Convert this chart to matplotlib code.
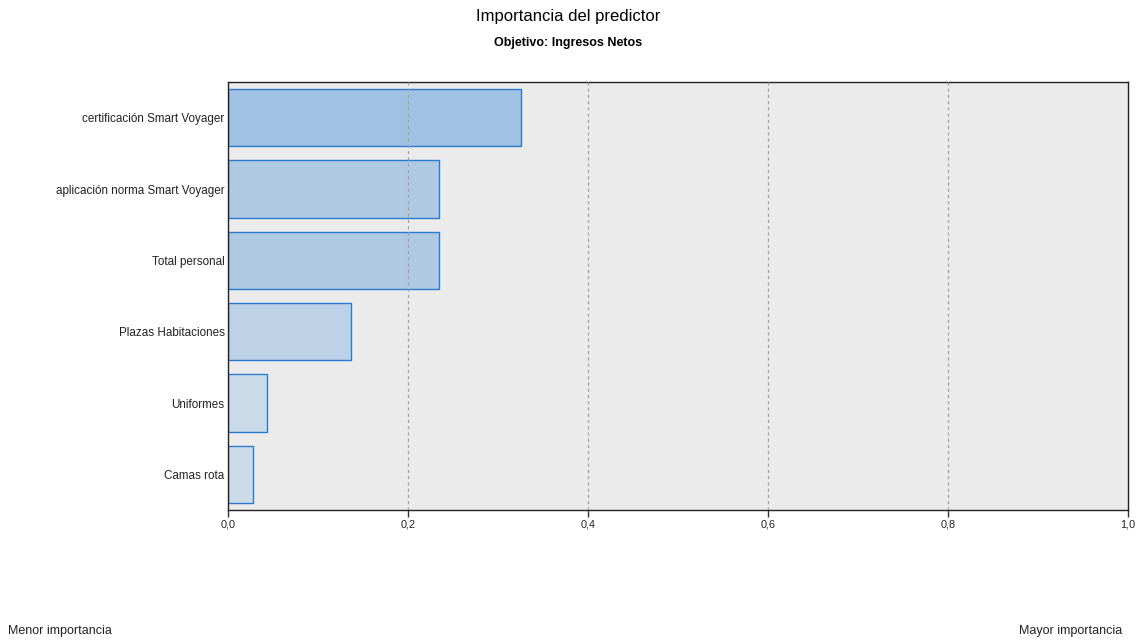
import matplotlib
matplotlib.use("Agg")
import matplotlib.pyplot as plt

categories = ["certificación Smart Voyager", "aplicación norma Smart Voyager",
              "Total personal", "Plazas Habitaciones", "Uniformes", "Camas rota"]
importance = [0.326, 0.234, 0.234, 0.137, 0.043, 0.028]
fill_colors = ["#a0c1e1", "#afc9e3", "#afc9e3", "#bdd2e6", "#cadae8", "#cddbe8"]
xticks = [0.0, 0.2, 0.4, 0.6, 0.8, 1.0]
xtick_labels = ["0,0", "0,2", "0,4", "0,6", "0,8", "1,0"]

plt.rcParams['font.family'] = ['Liberation Sans', 'DejaVu Sans']

W, H = 1138, 640
fig = plt.figure(figsize=(W / 100, H / 100), dpi=100)
ax = fig.add_axes([228 / W, 1 - 510 / H, (1128 - 228) / W, (510 - 82) / H])
ax.set_facecolor("#ebebeb")

ypos = list(range(len(categories)))
ax.barh(ypos, importance, height=0.8, color=fill_colors, edgecolor="#2a7ad0",
        linewidth=1.0, zorder=2)
ax.set_ylim(len(categories) - 0.5, -0.5)
ax.set_xlim(0, 1.0)
ax.set_yticks(ypos)
ax.set_yticklabels(categories, fontsize=8.4, color="#222222")
ax.tick_params(axis="y", length=0, pad=2.5)
ax.set_xticks(xticks)
ax.set_xticklabels(xtick_labels, fontsize=7.8, color="#222222")
ax.tick_params(axis="x", length=5, width=1, color="#333333", pad=2)
for v in xticks[1:-1]:
    ax.axvline(v, color="#a0a0a0", linestyle=(0, (2.5, 2.5)), linewidth=0.9, zorder=3)
for s in ["top", "right", "left", "bottom"]:
    ax.spines[s].set_color("#222222")
    ax.spines[s].set_linewidth(1.0)

fig.text(568 / W, 1 - 16 / H, "Importancia del predictor", ha="center", va="center",
         fontsize=12, color="#000000")
fig.text(568 / W, 1 - 43 / H, "Objetivo: Ingresos Netos", ha="center", va="center",
         fontsize=9, fontweight="bold", color="#000000")
fig.text(8 / W, 1 - 631 / H, "Menor importancia", ha="left", va="center",
         fontsize=9, color="#222222")
fig.text(1122 / W, 1 - 631 / H, "Mayor importancia", ha="right", va="center",
         fontsize=9, color="#222222")

fig.savefig("out.png", dpi=100, facecolor="white")
